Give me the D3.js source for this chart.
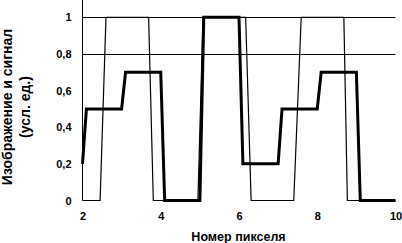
<!DOCTYPE html>
<html>
<head>
<meta charset="utf-8">
<script src="https://cdn.jsdelivr.net/npm/d3@7"></script>
<style>
  body { margin: 0; background: #fff; }
  text { font-family: "Liberation Sans", Arial, sans-serif; font-weight: bold; fill: #000; }
</style>
</head>
<body>
<div id="chart"></div>
<script>
// signal (thick) and image (thin)
const signalX = [2, 2.1, 3, 3.1, 4, 4.1, 5, 5.1, 6, 6.1, 7, 7.1, 8, 8.1, 9, 9.1, 10];
const signalY = [0.2, 0.5, 0.5, 0.7, 0.7, 0, 0, 1, 1, 0.2, 0.2, 0.5, 0.5, 0.7, 0.7, 0, 0];
const imageX = [2, 2.45, 2.6, 3.69, 3.81, 4.95, 5.08, 6.17, 6.31, 7.4, 7.59, 8.68, 8.77, 10];
const imageY = [0, 0, 1, 1, 0, 0, 1, 1, 0, 0, 1, 1, 0, 0];
const xTicks = [2, 4, 6, 8, 10];
const yTicks = [0, 0.2, 0.4, 0.6, 0.8, 1];
const gridValues = [0.8, 1];
const xTitle = "Номер пикселя";
const yTitle = ["Изображение и сигнал", "(усл. ед.)"];

const width = 402, height = 243;

const svg = d3.select("#chart").append("svg")
    .attr("width", width)
    .attr("height", height);

const x = d3.scaleLinear().domain([2, 10]).range([82.5, 395.5]);
const y = d3.scaleLinear().domain([0, 1]).range([200.5, 17.3]);

// gridlines
svg.append("g")
    .selectAll("line")
    .data(gridValues)
    .join("line")
    .attr("x1", x(2)).attr("x2", x(10))
    .attr("y1", d => Math.round(y(d)) + 0.5)
    .attr("y2", d => Math.round(y(d)) + 0.5)
    .attr("stroke", "#000")
    .attr("stroke-width", 1);

// y axis
const yAxis = svg.append("g")
    .attr("transform", `translate(${x(2)},0)`)
    .call(d3.axisLeft(y).tickValues(yTicks).tickSize(0).tickPadding(11)
        .tickFormat(d => String(d).replace(".", ",")));
yAxis.select(".domain").remove();
yAxis.selectAll("text").style("font-size", "11px").attr("font-family", null);
yAxis.append("line")
    .attr("y1", y(0)).attr("y2", y(1.1))
    .attr("stroke", "#000");

// x axis (labels only)
const xAxis = svg.append("g")
    .attr("transform", `translate(0,${y(0)})`)
    .call(d3.axisBottom(x).tickValues(xTicks).tickSize(0).tickPadding(11.5));
xAxis.select(".domain").remove();
xAxis.selectAll("text").style("font-size", "11px").attr("font-family", null);

// lines
const line = d3.line().x(d => x(d[0])).y(d => y(d[1]));

svg.append("path")
    .datum(imageX.map((v, i) => [v, imageY[i]]))
    .attr("fill", "none")
    .attr("stroke", "#000")
    .attr("stroke-width", 1.2)
    .attr("d", line);

svg.append("path")
    .datum(signalX.map((v, i) => [v, signalY[i]]))
    .attr("fill", "none")
    .attr("stroke", "#000")
    .attr("stroke-width", 3)
    .attr("stroke-linejoin", "miter")
    .attr("d", line);

// titles
svg.append("text")
    .attr("x", 238.5)
    .attr("y", 241)
    .attr("text-anchor", "middle")
    .style("font-size", "12.5px")
    .text(xTitle);

svg.append("g")
    .attr("transform", "translate(0,107) rotate(-90)")
    .selectAll("text")
    .data(yTitle)
    .join("text")
    .attr("x", 0)
    .attr("y", (d, i) => 12 + i * 18)
    .attr("text-anchor", "middle")
    .style("font-size", "14px")
    .text(d => d);
</script>
</body>
</html>
